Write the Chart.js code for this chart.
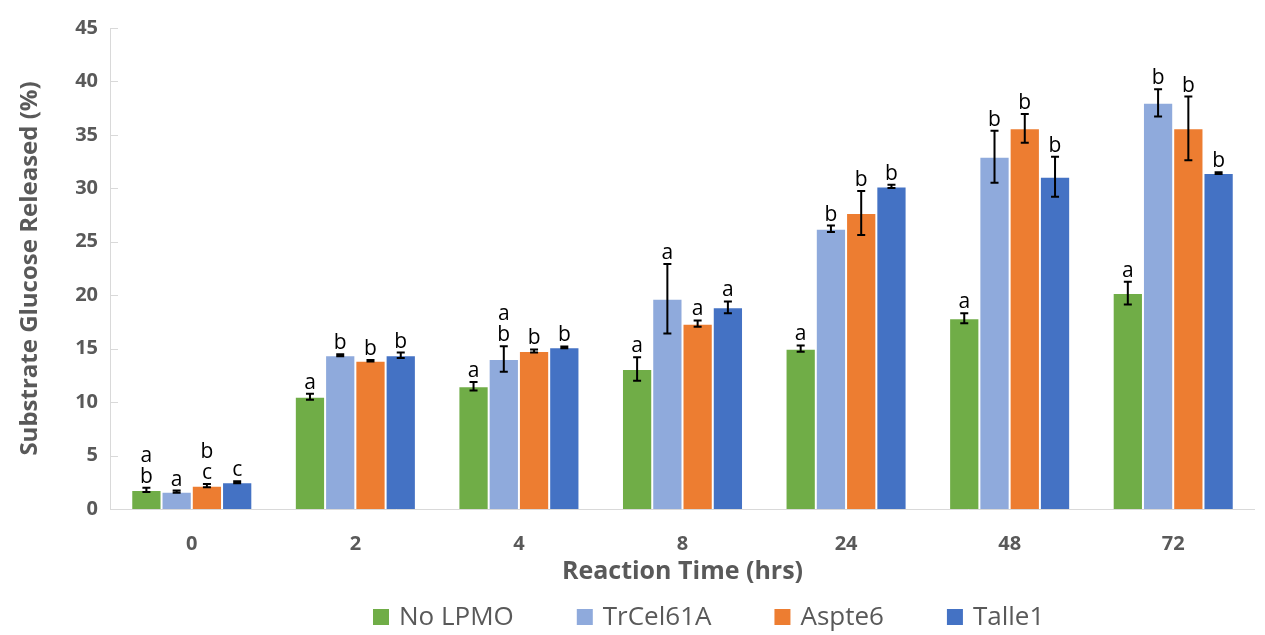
<!DOCTYPE html>
<html>
<head>
<meta charset="utf-8">
<script src="https://cdn.jsdelivr.net/npm/chart.js@4"></script>
<style>
  html, body { margin: 0; padding: 0; background: #fff; }
  #wrap { width: 1265px; height: 635px; position: relative; }
</style>
</head>
<body>
<div id="wrap"><canvas id="glucose-chart"></canvas></div>
<script>
const categories = ['0', '2', '4', '8', '24', '48', '72'];

const noLpmo    = [1.78, 10.5, 11.48, 13.1, 15.0, 17.84, 20.2];
const noLpmoErr = [0.2, 0.28, 0.4, 1.09, 0.3, 0.47, 1.06];
const trCel     = [1.62, 14.38, 14.03, 19.67, 26.22, 32.96, 38.0];
const trCelErr  = [0.1, 0.1, 1.2, 3.24, 0.3, 2.43, 1.28];
const aspte     = [2.18, 13.87, 14.78, 17.34, 27.69, 35.61, 35.61];
const aspteErr  = [0.15, 0.08, 0.15, 0.3, 2.06, 1.34, 2.98];
const talle     = [2.5, 14.38, 15.13, 18.87, 30.18, 31.09, 31.43];
const talleErr  = [0.1, 0.25, 0.08, 0.55, 0.15, 1.87, 0.08];

// significance letters, top line first
const noLpmoLetters = [['a', 'b'], ['a'], ['a'], ['a'], ['a'], ['a'], ['a']];
const trCelLetters  = [['a'], ['b'], ['a', 'b'], ['a'], ['b'], ['b'], ['b']];
const aspteLetters  = [['b', 'c'], ['b'], ['b'], ['a'], ['b'], ['b'], ['b']];
const talleLetters  = [['c'], ['b'], ['b'], ['a'], ['b'], ['b'], ['b']];

const yTicks = [0, 5, 10, 15, 20, 25, 30, 35, 40, 45];

const gray = '#595959';
const font = '"Open Sans", "DejaVu Sans", sans-serif';

const errorBars = {
  id: 'errorBars',
  afterDatasetsDraw(chart) {
    const ctx = chart.ctx;
    const y = chart.scales.y;
    ctx.save();
    chart.data.datasets.forEach((ds, i) => {
      const meta = chart.getDatasetMeta(i);
      meta.data.forEach((bar, j) => {
        const v = ds.data[j];
        const e = ds.errors[j];
        const top = y.getPixelForValue(v + e);
        const bot = y.getPixelForValue(v - e);
        ctx.strokeStyle = '#000';
        ctx.lineWidth = 2;
        ctx.beginPath();
        ctx.moveTo(bar.x, top); ctx.lineTo(bar.x, bot);
        ctx.moveTo(bar.x - 4, top); ctx.lineTo(bar.x + 4, top);
        ctx.moveTo(bar.x - 4, bot); ctx.lineTo(bar.x + 4, bot);
        ctx.stroke();

        ctx.fillStyle = '#000';
        ctx.font = '21px ' + font;
        ctx.textAlign = 'center';
        ctx.textBaseline = 'alphabetic';
        const lines = ds.letters[j];
        lines.slice().reverse().forEach((t, k) => {
          ctx.fillText(t, bar.x, top - 5 - k * 21);
        });
      });
    });
    ctx.restore();
  }
};

// axis lines and inward ticks like the original
const axisMarks = {
  id: 'axisMarks',
  beforeDatasetsDraw(chart) {
    const ctx = chart.ctx;
    const { left, right, bottom } = chart.chartArea;
    const y = chart.scales.y;
    ctx.save();
    ctx.strokeStyle = '#d9d9d9';
    ctx.lineWidth = 1;
    ctx.beginPath();
    ctx.moveTo(left + 0.5, y.getPixelForValue(45));
    ctx.lineTo(left + 0.5, bottom);
    ctx.moveTo(left, bottom + 0.5);
    ctx.lineTo(right, bottom + 0.5);
    yTicks.forEach(t => {
      const py = Math.round(y.getPixelForValue(t)) + 0.5;
      ctx.moveTo(left, py);
      ctx.lineTo(left + 8, py);
    });
    ctx.stroke();
    ctx.restore();
  }
};

// legend row with the wide spacing of the original
const wideLegend = {
  id: 'wideLegend',
  afterDraw(chart) {
    const ctx = chart.ctx;
    const box = 16, gap = 10, spacing = 63, cy = 617, startX = 373;
    ctx.save();
    ctx.font = '26px ' + font;
    ctx.textBaseline = 'middle';
    ctx.textAlign = 'left';
    let x = startX;
    chart.data.datasets.forEach(ds => {
      ctx.fillStyle = ds.backgroundColor;
      ctx.fillRect(x, cy - box / 2, box, box);
      ctx.fillStyle = gray;
      ctx.fillText(ds.label, x + box + gap, cy + 1);
      x += box + gap + ctx.measureText(ds.label).width + spacing;
    });
    ctx.restore();
  }
};

const makeSet = (label, data, errors, letters, color) => ({
  label, data, errors, letters,
  backgroundColor: color,
  borderColor: 'rgba(255,255,255,0.35)',
  borderWidth: 1,
  barPercentage: 1.0,
  categoryPercentage: 0.74
});

const chartData = {
  labels: categories,
  datasets: [
    makeSet('No LPMO', noLpmo, noLpmoErr, noLpmoLetters, '#70AD47'),
    makeSet('TrCel61A', trCel, trCelErr, trCelLetters, '#8FAADC'),
    makeSet('Aspte6', aspte, aspteErr, aspteLetters, '#ED7D31'),
    makeSet('Talle1', talle, talleErr, talleLetters, '#4472C4')
  ]
};

const chartConfig = {
  type: 'bar',
  data: chartData,
  plugins: [axisMarks, errorBars, wideLegend],
  options: {
    responsive: true,
    maintainAspectRatio: false,
    animation: false,
    layout: { padding: { left: 10, right: 10, top: 28, bottom: 48 } },
    plugins: {
      tooltip: { enabled: false },
      legend: { display: false }
    },
    scales: {
      x: {
        afterFit(scale) { scale.height = 78; },
        grid: { display: false, drawTicks: false },
        border: { display: false },
        ticks: { color: gray, font: { family: font, size: 20, weight: 'bold' }, padding: 23 },
        title: {
          display: true,
          text: 'Reaction Time (hrs)',
          color: gray,
          font: { family: font, size: 25, weight: 'bold' },
          padding: { top: 2, bottom: 0 }
        }
      },
      y: {
        min: 0,
        max: 45,
        afterBuildTicks(scale) { scale.ticks = yTicks.map(v => ({ value: v })); },
        afterFit(scale) { scale.width = 100; },
        grid: { display: false, drawTicks: false },
        border: { display: false },
        ticks: { color: gray, font: { family: font, size: 20, weight: 'bold' }, padding: 12 },
        title: {
          display: true,
          text: 'Substrate Glucose Released (%)',
          color: gray,
          font: { family: font, size: 24, weight: 'bold' },
          padding: { top: 6, bottom: 0 }
        }
      }
    }
  }
};

const glucoseChart = new Chart(document.getElementById('glucose-chart'), chartConfig);
</script>
</body>
</html>
